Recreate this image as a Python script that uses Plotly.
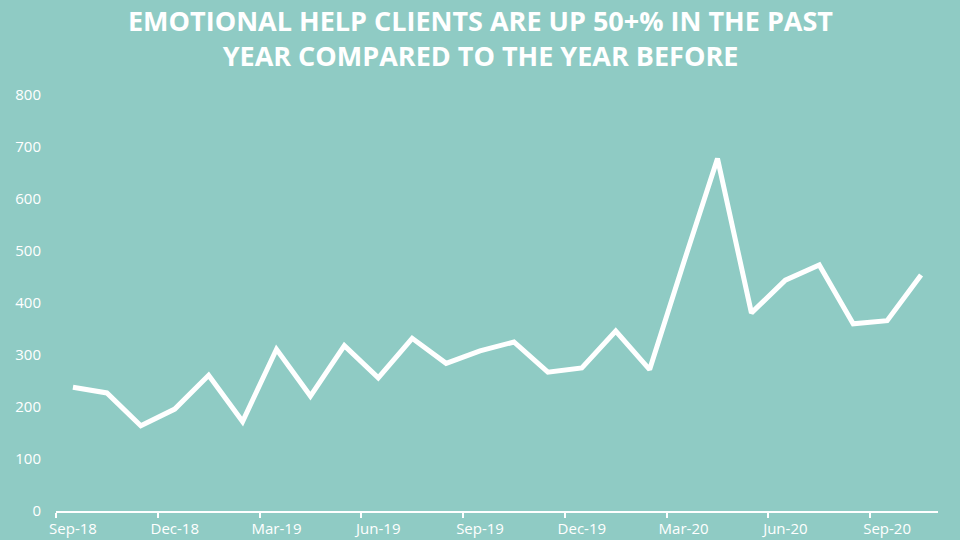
import plotly.graph_objects as go

months = ["Sep-18", "Oct-18", "Nov-18", "Dec-18", "Jan-19", "Feb-19", "Mar-19", "Apr-19",
          "May-19", "Jun-19", "Jul-19", "Aug-19", "Sep-19", "Oct-19", "Nov-19", "Dec-19",
          "Jan-20", "Feb-20", "Mar-20", "Apr-20", "May-20", "Jun-20", "Jul-20", "Aug-20",
          "Sep-20", "Oct-20"]
clients = [238, 227, 164, 196, 261, 172, 311, 221, 318, 256, 332, 284, 308, 325,
           267, 275, 346, 272, 477, 678, 381, 444, 473, 360, 366, 454]
y_ticks = [0, 100, 200, 300, 400, 500, 600, 700, 800]
title_lines = ["EMOTIONAL HELP CLIENTS ARE UP 50+% IN THE PAST",
               "YEAR COMPARED TO THE YEAR BEFORE"]

BG = "#8FCBC4"
WHITE = "#FFFFFF"

x_idx = list(range(len(months)))
label_idx = x_idx[::3]

fig = go.Figure()
fig.add_trace(go.Scatter(
    x=x_idx, y=clients, mode="lines",
    line=dict(color=WHITE, width=5, shape="linear"),
    hoverinfo="skip", showlegend=False,
))

M_T, M_B = 95, 29
plot_h = 540 - M_T - M_B

fig.update_layout(
    width=960, height=540,
    paper_bgcolor=BG, plot_bgcolor=BG,
    margin=dict(l=56, r=22, t=M_T, b=M_B, autoexpand=False),
    font=dict(family="Open Sans", color=WHITE),
    annotations=[dict(
        text="<b>" + "<br>".join(title_lines) + "</b>",
        xref="paper", yref="paper", x=(480 - 56) / (960 - 56 - 22), xanchor="center",
        y=1 + M_T / plot_h, yanchor="top", showarrow=False,
        font=dict(family="Open Sans", size=27, color=WHITE), align="center",
    )],
)

fig.update_xaxes(
    range=[-0.5, len(months) - 0.5], automargin=False,
    tickmode="array", tickvals=label_idx, ticktext=[months[i] for i in label_idx],
    ticks="", showgrid=False, zeroline=False,
    showline=True, linecolor=WHITE, linewidth=2,
    tickfont=dict(family="Open Sans", size=15, color=WHITE),
    ticklabelstandoff=3,
    minor=dict(tickmode="array", tickvals=[i - 0.5 for i in label_idx],
               ticks="outside", ticklen=5, tickwidth=2, tickcolor=WHITE, showgrid=False),
)
fig.update_yaxes(
    range=[0, 800], tickmode="array", tickvals=y_ticks, automargin=False,
    showgrid=False, zeroline=False, showline=False, ticks="",
    tickfont=dict(family="Open Sans", size=15, color=WHITE),
    ticklabelstandoff=14,
)

fig.write_html(
    "out.html",
    config={"displayModeBar": False},
    post_script="document.body.style.margin='0';document.body.style.background='%s';" % BG,
)
